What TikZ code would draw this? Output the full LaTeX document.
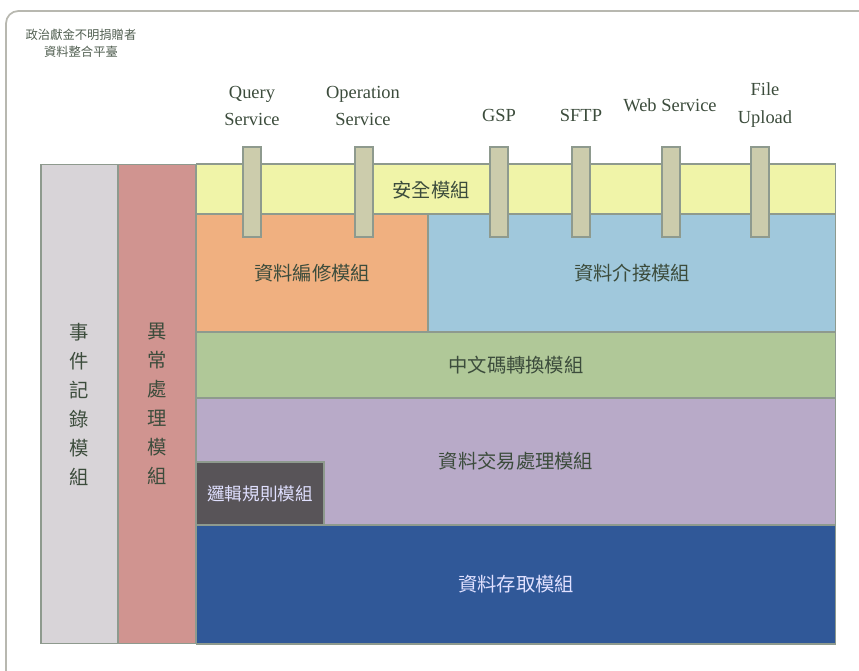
\documentclass[tikz,border=0pt]{standalone}
\usepackage{fontspec}
\setmainfont{Liberation Serif}
\newfontfamily\cjk{Noto Sans CJK TC}
\definecolor{txtgreen}{HTML}{3C4C3C}
\definecolor{framegray}{HTML}{B8B8B0}
\definecolor{edgegray}{HTML}{8E9A8E}
\definecolor{logfill}{HTML}{D8D4D8}
\definecolor{errfill}{HTML}{D09490}
\definecolor{secfill}{HTML}{F0F4A8}
\definecolor{fmtfill}{HTML}{F0B080}
\definecolor{iffill}{HTML}{A0C8DC}
\definecolor{cnfill}{HTML}{B0C898}
\definecolor{txfill}{HTML}{B8AAC8}
\definecolor{rulefill}{HTML}{585458}
\definecolor{dbfill}{HTML}{305898}
\definecolor{portfill}{HTML}{CCCCAC}

\begin{document}
\begin{tikzpicture}[x=0.02cm, y=-0.02cm,
    block/.style={draw=edgegray, line width=0.6pt, inner sep=0pt, text=txtgreen, font=\cjk\fontsize{11}{16.5}\selectfont, align=center},
    port/.style={draw=edgegray, fill=portfill, line width=0.6pt, minimum width=0.36cm, minimum height=1.8cm, inner sep=0pt},
    portlabel/.style={text=txtgreen, font=\fontsize{10.5}{15.5}\selectfont, align=center, inner sep=0pt}]
    \useasboundingbox (0, 0) rectangle (859, 670);
    \clip (0, 0) rectangle (859, 670);

    % FRAME AND TITLE
    \draw[framegray, line width=1pt, rounded corners=7pt] (6, 680) -- (6, 11) -- (870, 11);
    \node (title) at (81, 43) [text=txtgreen!90, font=\cjk\fontsize{7}{9.5}\selectfont, align=center] {政治獻金不明捐贈者\\資料整合平臺};

    % BLOCKS
    \node (evtlog) at (79.5, 404) [block, fill=logfill, minimum width=1.54cm, minimum height=9.6cm] {事\\件\\記\\錄\\模\\組};
    \node (errmod) at (157, 404) [block, fill=errfill, minimum width=1.56cm, minimum height=9.6cm] {異\\常\\處\\理\\模\\組};

    \node (secmod) at (516, 189) [block, fill=secfill, minimum width=12.8cm, minimum height=1cm] {};
    \node (sectext) at (431, 190) [block, draw=none] {安全模組};
    \node (fmtmod) at (312, 273) [block, fill=fmtfill, minimum width=4.64cm, minimum height=2.36cm] {資料編修模組};
    \node (ifmod) at (632, 273) [block, fill=iffill, minimum width=8.16cm, minimum height=2.36cm] {資料介接模組};
    \node (cnmod) at (516, 365) [block, fill=cnfill, minimum width=12.8cm, minimum height=1.32cm] {中文碼轉換模組};
    \node (txmod) at (516, 461.5) [block, fill=txfill, minimum width=12.8cm, minimum height=2.54cm] {\raisebox{-2pt}{資料交易處理模組}};
    \node (rulemod) at (260, 493.5) [block, fill=rulefill, minimum width=2.56cm, minimum height=1.26cm, text=white!88!blue, font=\cjk\fontsize{10}{12}\selectfont] {邏輯規則模組};
    \node (dbmod) at (516, 584.5) [block, fill=dbfill, minimum width=12.8cm, minimum height=2.38cm, text=white!88!blue] {資料存取模組};

    % PORTS
    \node (qport) at (252, 192) [port] {};
    \node (opport) at (364, 192) [port] {};
    \node (gspport) at (499, 192) [port] {};
    \node (sftpport) at (581, 192) [port] {};
    \node (wsport) at (671, 192) [port] {};
    \node (fuport) at (760, 192) [port] {};

    % PORT LABELS
    \node (qlabel) at (252, 106) [portlabel] {Query\\Service};
    \node (oplabel) at (363, 106) [portlabel] {Operation\\Service};
    \node (gsplabel) at (499, 115) [portlabel] {GSP};
    \node (sftplabel) at (581, 115) [portlabel] {SFTP};
    \node (wslabel) at (670, 105) [portlabel] {Web Service};
    \node (fulabel) at (765, 105) [portlabel] {File\\Upload};
  \end{tikzpicture}
\end{document}
